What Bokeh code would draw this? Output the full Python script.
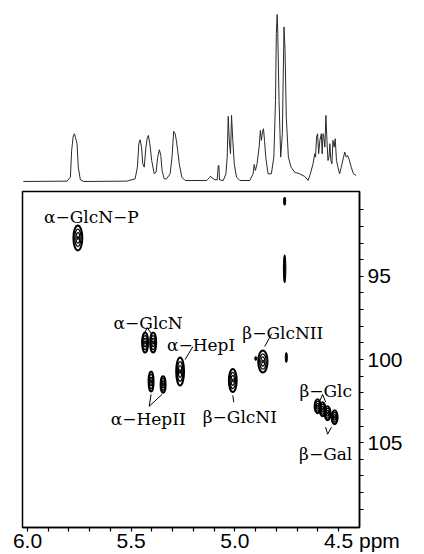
from bokeh.plotting import figure
from bokeh.layouts import column
from bokeh.models import Range1d, FixedTicker
from bokeh.core.properties import value
from bokeh.embed import file_html
from bokeh.resources import INLINE

# ---------------- data ----------------
# 1D proton projection (ppm, relative intensity)
spec_ppm = [6.020, 5.809, 5.793, 5.787, 5.780, 5.774, 5.768, 5.761, 5.755, 5.745, 5.729,
            5.521, 5.481, 5.470, 5.463, 5.457, 5.450, 5.444, 5.437, 5.429, 5.423, 5.417,
            5.410, 5.401, 5.389, 5.380, 5.372, 5.364, 5.357, 5.351, 5.341, 5.329, 5.312,
            5.303, 5.295, 5.288, 5.282, 5.276, 5.268, 5.256, 5.240, 5.136, 5.123, 5.117,
            5.111, 5.096, 5.085, 5.080, 5.077, 5.074, 5.056, 5.043, 5.037, 5.032, 5.027,
            5.021, 5.016, 5.010, 5.003, 4.992, 4.976, 4.928, 4.912, 4.907, 4.901, 4.893,
            4.883, 4.877, 4.872, 4.867, 4.862, 4.857, 4.851, 4.840, 4.824, 4.812, 4.804,
            4.800, 4.796, 4.793, 4.787, 4.779, 4.771, 4.766, 4.763, 4.758, 4.752, 4.742,
            4.729, 4.712, 4.688, 4.663, 4.647, 4.636, 4.623, 4.615, 4.611, 4.606, 4.601,
            4.596, 4.590, 4.583, 4.579, 4.575, 4.571, 4.566, 4.561, 4.556, 4.551, 4.546,
            4.542, 4.537, 4.532, 4.527, 4.521, 4.516, 4.510, 4.503, 4.495, 4.487, 4.476,
            4.470, 4.463, 4.457, 4.450, 4.439, 4.428, 4.415]
spec_int = [0.0, 0.2, 2.6, 18.6, 26.6, 28.6, 26.2, 22.6, 8.6, 1.0, 0.0,
            0.2, 1.6, 8.6, 22.6, 25.0, 20.6, 10.6, 8.6, 20.6, 25.6, 27.6,
            22.6, 12.6, 4.6, 5.6, 14.6, 19.0, 15.6, 6.6, 1.6, 1.6, 4.6,
            14.6, 30.0, 28.6, 24.6, 18.6, 10.6, 2.6, 0.6, 0.6, 2.2, 3.2,
            2.2, 1.0, 1.0, 9.6, 9.6, 1.0, 0.6, 4.6, 14.6, 39.0, 24.6,
            16.6, 39.6, 24.6, 10.6, 2.6, 0.6, 0.6, 4.6, 10.2, 6.6, 10.6,
            20.6, 30.6, 24.6, 29.6, 31.6, 24.6, 14.6, 4.6, 4.6, 14.6, 48.6,
            88.6, 100.0, 88.6, 48.6, 14.6, 28.6, 68.6, 92.6, 78.6, 38.6, 14.6,
            8.6, 5.6, 4.6, 3.0, 0.6, 4.6, 10.6, 16.6, 14.6, 26.6, 28.6,
            16.6, 24.6, 28.6, 16.6, 28.6, 26.6, 20.6, 39.6, 24.6, 12.6, 14.6,
            22.6, 12.6, 10.6, 24.6, 20.6, 25.6, 12.6, 8.6, 4.6, 8.6, 14.6,
            17.6, 14.6, 15.6, 13.6, 8.6, 4.6, 3.6]

# 2D cross peaks: 1H shift, 13C shift, extent in 1H, extent in 13C
peak_h = [5.757, 5.433, 5.394, 5.264, 5.404, 5.346, 5.010, 4.865, 4.601, 4.577, 4.553, 4.519]
peak_c = [92.69, 98.98, 98.98, 100.72, 101.32, 101.50, 101.26, 100.12, 102.81, 102.99, 103.23, 103.47]
peak_wh = [0.043, 0.029, 0.029, 0.038, 0.024, 0.024, 0.038, 0.045, 0.029, 0.029, 0.029, 0.029]
peak_wc = [1.50, 1.20, 1.20, 1.68, 1.20, 1.00, 1.38, 1.32, 0.84, 0.84, 0.84, 0.84]

# water t1-noise streaks and small artefacts
art_h = [4.760, 4.760, 4.752, 4.899]
art_c = [90.48, 94.55, 99.88, 99.94]
art_wh = [0.010, 0.012, 0.010, 0.010]
art_wc = [0.50, 1.70, 0.60, 0.24]

# assignment labels
lab_text = ["\u03b1\u2212GlcN\u2212P", "\u03b1\u2212GlcN", "\u03b1\u2212HepI", "\u03b2\u2212GlcNII",
            "\u03b1\u2212HepII", "\u03b2\u2212GlcNI", "\u03b2\u2212Glc", "\u03b2\u2212Gal"]
lab_h = [5.692, 5.418, 5.163, 4.769, 5.418, 4.976, 4.562, 4.562]
lab_c = [91.44, 97.78, 99.10, 98.38, 103.59, 103.47, 101.92, 105.69]

# connector lines (start/end in ppm)
con_h0 = [5.423, 5.423, 5.240, 4.856, 5.413, 5.413, 5.010, 4.577, 4.577, 4.553, 4.553]
con_c0 = [98.08, 98.08, 100.00, 99.22, 102.81, 102.81, 102.16, 102.10, 102.10, 104.49, 104.49]
con_h1 = [5.438, 5.399, 5.202, 4.822, 5.404, 5.351, 5.005, 4.591, 4.562, 4.562, 4.534]
con_c1 = [98.50, 98.50, 99.22, 98.44, 102.10, 102.10, 102.57, 102.51, 102.57, 104.07, 104.07]

x_major = [6.0, 5.5, 5.0, 4.5]
x_minor = [5.9, 5.8, 5.7, 5.6, 5.4, 5.3, 5.2, 5.1, 4.9, 4.8, 4.7, 4.6]
y_major = [95, 100, 105]
y_minor = [91, 92, 93, 94, 96, 97, 98, 99, 101, 102, 103, 104, 106, 107, 108, 109]
unit_label = "ppm"

# ---------------- layout ----------------
W = 424
LEFT, RIGHT = 22, 65
xr = Range1d(6.024, 4.399)

p1 = figure(width=W, height=188, x_range=xr, y_range=Range1d(-4.2, 108.4),
            output_backend="svg", toolbar_location=None,
            min_border_left=LEFT, min_border_right=RIGHT, min_border_top=0, min_border_bottom=0)
p1.axis.visible = False
p1.grid.visible = False
p1.outline_line_color = None
p1.line(spec_ppm, spec_int, line_color="#2a2a2a", line_width=1.0)

p2 = figure(width=W, height=366, x_range=xr, y_range=Range1d(110.1, 89.9),
            output_backend="svg", toolbar_location=None, x_axis_location="below",
            y_axis_location="right",
            min_border_left=LEFT, min_border_right=RIGHT, min_border_top=3, min_border_bottom=25)
p2.grid.visible = False
p2.outline_line_color = "black"
p2.outline_line_width = 1.5

for ax in (p2.xaxis[0], p2.yaxis[0]):
    ax.axis_line_width = 1.5
    ax.major_tick_in = 0
    ax.minor_tick_in = 0
    ax.major_tick_out = 4
    ax.minor_tick_out = 4
    ax.major_tick_line_width = 1.2
    ax.minor_tick_line_width = 1.2
    ax.major_label_text_font = "Liberation Sans"
    ax.major_label_text_font_size = "21px"
    ax.major_label_text_color = "black"
p2.xaxis.ticker = FixedTicker(ticks=x_major, minor_ticks=x_minor)
p2.yaxis.ticker = FixedTicker(ticks=y_major, minor_ticks=y_minor)
p2.xaxis.major_label_standoff = -3
p2.yaxis.major_label_standoff = 4
# last tick label carries the unit; leading no-break spaces keep "4.5" centred on its tick
nb = "\u00a0" * 8
p2.xaxis.major_label_overrides = {6.0: "6.0", 5.5: "5.5", 5.0: "5.0",
                                  4.5: nb + "4.5 " + unit_label}

# contour rings
for s, lw in ((1.0, 2.0), (0.7, 1.3), (0.42, 1.3)):
    p2.ellipse(x=peak_h, y=peak_c, width=[w * s for w in peak_wh], height=[h * s for h in peak_wc],
               fill_color=None, line_color="black", line_width=lw)
p2.ellipse(x=peak_h, y=peak_c, width=[w * 0.15 for w in peak_wh], height=[h * 0.15 for h in peak_wc],
           fill_color="black", line_color="black", line_width=1)
p2.ellipse(x=art_h, y=art_c, width=art_wh, height=art_wc,
           fill_color="black", line_color="black", line_width=1)

p2.segment(x0=con_h0, y0=con_c0, x1=con_h1, y1=con_c1, line_color="black", line_width=1)
p2.text(x=lab_h, y=lab_c, text=lab_text, text_font=value("DejaVu Serif"), text_font_size="17px",
        text_align="center", text_baseline="alphabetic", text_color="black")

layout = column(p1, p2, spacing=0)
open("out.html", "w").write(file_html(layout, INLINE))
